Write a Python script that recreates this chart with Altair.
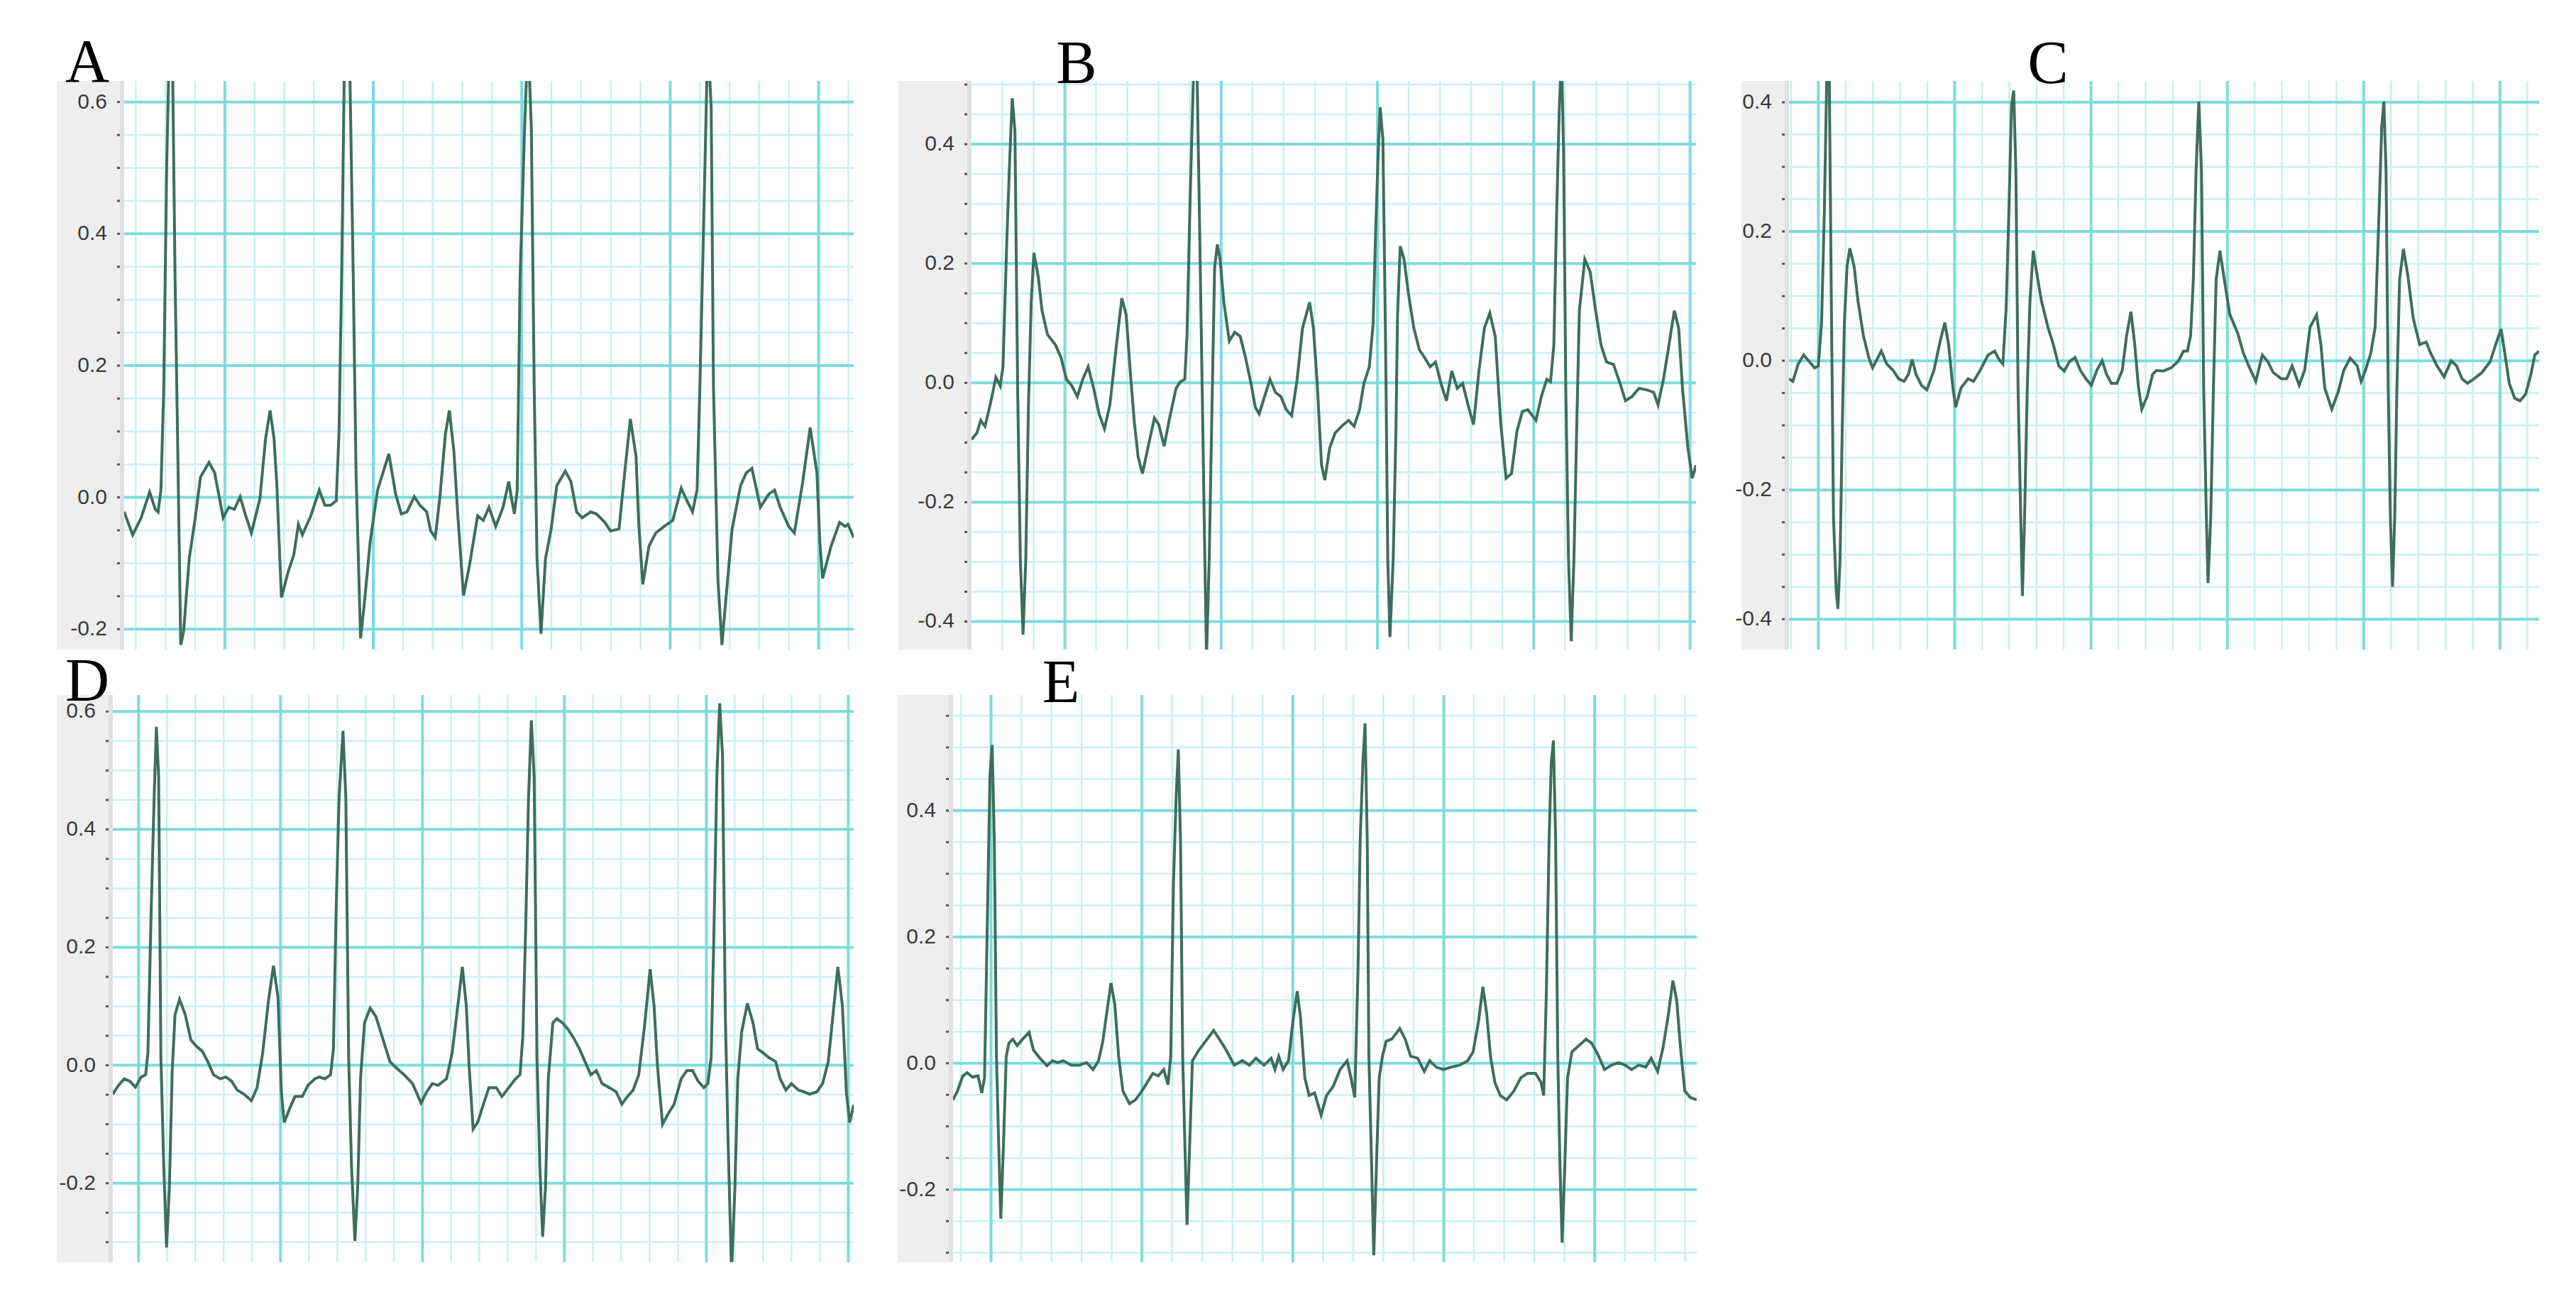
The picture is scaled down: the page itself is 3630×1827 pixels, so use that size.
import altair as alt
import pandas as pd

# ---------------- data (time in samples, amplitude in mV) ----------------
A_t = [0,15,30,45,55,60,65,70,75,80,85,90,95,100,105,115,125,135,150,160,170,175,185,195,205,215,225,240,250,258,
       265,270,278,290,300,308,315,330,345,355,365,375,380,385,390,398,405,410,418,425,435,448,468,480,490,500,513,523,535,542,
       550,558,568,575,583,590,600,610,625,635,645,657,670,680,685,690,695,700,708,714,720,725,730,737,745,755,765,780,790,800,
       810,825,835,850,860,875,885,895,905,910,917,928,940,955,970,985,995,1005,1013,1018,1025,1032,1038,1042,1050,1057,1065,1075,1090,1100,
       1110,1125,1140,1150,1160,1175,1185,1200,1213,1225,1230,1235,1250,1265,1275,1280,1290]
A_v = [-0.022,-0.057,-0.031,0.008,-0.018,-0.022,0.011,0.168,0.494,0.70,0.70,0.331,0.057,-0.224,-0.204,-0.093,-0.035,0.031,0.053,0.037,
       -0.008,-0.031,-0.015,-0.018,0.001,-0.028,-0.054,-0.002,0.089,0.132,0.089,0.018,-0.152,-0.113,-0.087,-0.041,-0.057,-0.028,0.011,-0.012,
       -0.012,-0.005,0.102,0.363,0.70,0.70,0.337,0.037,-0.214,-0.158,-0.067,0.011,0.066,0.005,-0.025,-0.022,0.001,-0.012,-0.022,-0.051,
       -0.061,-0.002,0.096,0.132,0.070,-0.028,-0.149,-0.106,-0.028,-0.035,-0.015,-0.044,-0.015,0.024,-0.002,-0.025,0.011,0.331,0.559,0.70,
       0.559,0.168,-0.093,-0.207,-0.093,-0.048,0.018,0.040,0.024,-0.022,-0.031,-0.022,-0.025,-0.038,-0.051,-0.048,0.037,0.119,0.063,-0.041,
       -0.132,-0.074,-0.054,-0.044,-0.035,0.014,-0.005,-0.022,0.011,0.168,0.428,0.70,0.591,0.168,-0.126,-0.224,-0.145,-0.048,0.018,0.037,
       0.044,-0.015,0.005,0.011,-0.015,-0.044,-0.054,0.024,0.106,0.037,-0.067,-0.123,-0.074,-0.038,-0.044,-0.041,-0.061]

B_t = [0,10,17,25,35,45,53,58,65,70,75,80,85,90,95,100,105,110,115,123,130,140,155,165,175,185,195,205,215,225,
       235,245,255,267,277,285,293,300,307,315,325,337,345,355,365,377,385,393,397,403,410,415,420,425,430,433,438,443,448,453,
       458,465,475,485,495,505,515,523,530,540,550,560,570,580,590,600,610,623,630,637,645,651,660,670,685,695,705,715,723,733,
       740,745,750,753,758,763,767,771,777,782,785,790,797,805,815,825,835,845,855,865,875,885,895,905,915,925,935,945,955,965,
       975,985,995,1005,1015,1025,1040,1050,1060,1067,1073,1078,1083,1087,1091,1095,1100,1105,1110,1115,1120,1130,1140,1150,1160,1170,1183,1195,1205,1217,
       1230,1245,1257,1265,1275,1285,1295,1303,1310,1320,1328,1335]
B_v = [-0.095,-0.084,-0.063,-0.073,-0.034,0.009,-0.005,0.027,0.236,0.365,0.477,0.423,-0.009,-0.296,-0.422,-0.296,-0.037,0.135,0.218,0.178,
       0.121,0.081,0.063,0.042,0.006,-0.005,-0.023,0.006,0.027,-0.009,-0.052,-0.077,-0.037,0.063,0.142,0.114,0.013,-0.066,-0.124,-0.152,
       -0.109,-0.059,-0.070,-0.106,-0.059,-0.009,0.002,0.006,0.078,0.315,0.55,0.55,0.279,-0.009,-0.296,-0.46,-0.296,-0.045,0.193,0.232,
       0.207,0.135,0.070,0.085,0.078,0.042,-0.001,-0.041,-0.052,-0.023,0.006,-0.016,-0.023,-0.045,-0.055,0.006,0.092,0.135,0.092,-0.001,
       -0.138,-0.163,-0.109,-0.084,-0.070,-0.063,-0.073,-0.045,-0.001,0.027,0.099,0.265,0.401,0.462,0.408,0.063,-0.296,-0.426,-0.296,-0.081,
       0.114,0.229,0.207,0.150,0.092,0.056,0.042,0.027,0.035,-0.001,-0.030,0.020,-0.009,-0.001,-0.037,-0.070,0.020,0.092,0.117,0.078,
       -0.066,-0.160,-0.152,-0.081,-0.048,-0.045,-0.063,-0.023,0.006,0.002,0.063,0.279,0.459,0.55,0.387,-0.009,-0.296,-0.433,-0.296,-0.081,
       0.121,0.207,0.186,0.121,0.063,0.035,0.031,-0.001,-0.030,-0.023,-0.009,-0.012,-0.016,-0.037,0.006,0.063,0.121,0.092,-0.009,-0.109,
       -0.160,-0.138]

C_t = [0,7,17,27,37,47,54,60,65,70,74,78,82,87,90,94,98,102,107,112,120,127,137,147,154,162,170,180,192,202,
       212,220,227,234,244,254,267,279,287,294,302,307,317,330,340,352,367,379,387,394,400,405,410,414,418,422,427,430,434,439,
       444,450,457,465,477,487,497,507,517,527,537,547,557,567,577,585,594,604,614,622,630,637,644,650,660,670,677,690,704,717,
       727,734,740,745,750,755,760,764,769,772,777,782,787,794,802,812,827,837,847,860,872,882,892,907,917,927,940,950,960,972,
       980,987,1000,1012,1022,1034,1047,1054,1062,1072,1080,1087,1092,1096,1100,1104,1108,1112,1116,1120,1125,1132,1140,1150,1162,1174,1182,1194,1207,1220,
       1230,1240,1250,1262,1277,1292,1302,1312,1320,1327,1337,1347,1357,1367,1374,1382]
C_v = [-0.028,-0.032,-0.005,0.009,-0.001,-0.011,-0.008,0.059,0.227,0.46,0.46,0.093,-0.243,-0.357,-0.384,-0.310,-0.109,0.059,0.146,0.174,
       0.146,0.093,0.039,0.005,-0.011,0.002,0.015,-0.005,-0.015,-0.028,-0.032,-0.021,0.002,-0.021,-0.038,-0.045,-0.015,0.032,0.059,0.025,
       -0.042,-0.072,-0.042,-0.028,-0.032,-0.015,0.009,0.015,0.002,-0.005,0.079,0.227,0.395,0.418,0.294,-0.042,-0.243,-0.364,-0.243,-0.042,
       0.093,0.170,0.133,0.093,0.052,0.025,-0.008,-0.016,-0.001,0.005,-0.015,-0.028,-0.038,-0.015,0.000,-0.021,-0.035,-0.035,-0.015,0.039,
       0.076,0.025,-0.042,-0.075,-0.055,-0.021,-0.015,-0.016,-0.011,-0.001,0.015,0.015,0.039,0.126,0.294,0.401,0.294,-0.042,-0.243,-0.344,
       -0.243,-0.042,0.126,0.170,0.126,0.072,0.042,0.012,-0.008,-0.032,0.009,-0.001,-0.018,-0.028,-0.028,-0.008,-0.038,-0.015,0.052,0.071,
       0.025,-0.042,-0.075,-0.048,-0.015,0.004,-0.008,-0.032,-0.015,0.012,0.052,0.227,0.361,0.401,0.294,-0.042,-0.243,-0.350,-0.243,-0.042,
       0.126,0.173,0.133,0.066,0.025,0.029,0.012,-0.008,-0.025,0.000,-0.008,-0.028,-0.035,-0.028,-0.018,-0.001,0.025,0.049,0.005,-0.035,
       -0.058,-0.062,-0.052,-0.021,0.009,0.015]

D_t = [0,10,20,30,40,50,58,62,68,73,77,81,85,90,95,100,105,110,118,128,138,148,158,168,178,190,200,210,220,232,
       245,255,265,275,284,292,298,303,312,322,335,345,357,365,375,385,390,395,400,407,412,417,422,428,433,438,445,455,465,478,
       490,502,515,530,545,555,565,575,590,600,610,618,625,630,637,645,655,665,678,688,700,712,720,725,730,735,740,745,750,755,
       760,765,770,778,785,795,805,815,825,835,845,855,865,878,890,900,910,920,930,940,950,957,963,972,982,992,1005,1015,1025,1035,
       1045,1052,1058,1063,1068,1073,1078,1083,1088,1094,1100,1105,1112,1122,1132,1140,1150,1160,1172,1180,1190,1200,1212,1222,1232,1245,1255,1265,1275,1282,
       1290,1297,1303,1310]
D_v = [-0.049,-0.034,-0.023,-0.027,-0.037,-0.020,-0.016,0.021,0.270,0.453,0.574,0.490,0.013,-0.170,-0.309,-0.207,-0.009,0.086,0.112,0.086,
       0.043,0.032,0.024,0.006,-0.016,-0.023,-0.020,-0.027,-0.042,-0.049,-0.060,-0.038,0.021,0.108,0.169,0.116,-0.045,-0.097,-0.075,-0.053,
       -0.053,-0.034,-0.023,-0.020,-0.023,-0.016,0.028,0.270,0.453,0.567,0.453,0.013,-0.170,-0.298,-0.207,-0.023,0.072,0.097,0.083,0.043,
       0.006,-0.005,-0.016,-0.031,-0.064,-0.045,-0.031,-0.034,-0.023,0.021,0.101,0.167,0.101,-0.001,-0.108,-0.097,-0.067,-0.038,-0.038,-0.053,
       -0.038,-0.023,-0.016,0.050,0.233,0.453,0.585,0.490,0.013,-0.170,-0.291,-0.207,-0.023,0.072,0.079,0.072,0.061,0.046,0.028,0.006,
       -0.016,-0.009,-0.031,-0.038,-0.045,-0.066,-0.053,-0.042,-0.016,0.065,0.163,0.101,-0.001,-0.100,-0.082,-0.067,-0.023,-0.009,-0.009,-0.027,
       -0.038,-0.031,0.013,0.233,0.490,0.614,0.526,0.086,-0.133,-0.35,-0.207,-0.023,0.057,0.105,0.072,0.028,0.021,0.013,0.006,-0.023,
       -0.042,-0.031,-0.042,-0.045,-0.049,-0.045,-0.031,0.006,0.101,0.167,0.101,-0.045,-0.097,-0.067]

E_t = [0,8,18,26,36,46,53,58,63,68,72,76,80,84,88,93,98,103,110,118,128,140,148,160,173,183,193,203,218,233,
       246,258,268,276,283,291,298,305,313,325,336,348,358,368,378,388,396,401,406,411,415,419,423,427,431,436,441,453,468,480,
       493,503,518,533,546,558,573,586,593,600,608,618,626,634,640,648,656,666,678,688,700,713,726,733,740,746,750,755,759,763,
       766,771,775,780,785,791,798,808,823,833,843,856,868,878,890,903,918,933,948,958,968,976,983,990,998,1008,1020,1033,1046,1058,
       1073,1083,1088,1093,1098,1102,1106,1110,1114,1118,1122,1127,1132,1140,1153,1166,1176,1188,1200,1213,1226,1238,1250,1263,1276,1286,1298,1308,1318,1326,
       1333,1340,1348,1358,1370]
E_v = [-0.058,-0.044,-0.020,-0.015,-0.022,-0.020,-0.047,-0.023,0.216,0.456,0.504,0.353,0.011,-0.126,-0.246,-0.126,0.011,0.032,0.038,0.028,
       0.038,0.049,0.021,0.008,-0.004,0.004,0.001,0.004,-0.003,-0.003,0.001,-0.010,0.004,0.035,0.079,0.127,0.093,0.011,-0.044,-0.064,
       -0.058,-0.044,-0.030,-0.016,-0.020,-0.010,-0.034,0.011,0.285,0.422,0.497,0.353,0.011,-0.126,-0.256,-0.126,0.004,0.021,0.038,0.052,
       0.035,0.021,-0.003,0.004,-0.003,0.008,-0.003,0.008,-0.010,0.011,-0.010,0.004,0.066,0.114,0.073,-0.023,-0.051,-0.047,-0.082,-0.051,
       -0.037,-0.010,0.004,-0.023,-0.054,0.148,0.353,0.477,0.538,0.353,0.011,-0.160,-0.304,-0.160,-0.023,0.011,0.035,0.038,0.055,0.038,
       0.011,0.008,-0.013,0.004,-0.006,-0.010,-0.006,-0.003,0.004,0.018,0.066,0.121,0.079,0.011,-0.030,-0.051,-0.058,-0.044,-0.023,-0.016,
       -0.016,-0.030,-0.051,0.114,0.353,0.477,0.511,0.353,0.011,-0.160,-0.284,-0.160,-0.023,0.018,0.028,0.038,0.032,0.014,-0.010,-0.003,
       0.001,-0.003,-0.010,-0.003,-0.006,0.008,-0.013,0.025,0.079,0.131,0.100,0.025,-0.044,-0.054,-0.058]

# axis domains (samples, mV)
X_DOMAINS = {"A": [0, 1290], "B": [0, 1335], "C": [0, 1382], "D": [0, 1310], "E": [0, 1370]}
Y_DOMAINS = {"A": [-0.231, 0.632], "B": [-0.447, 0.506], "C": [-0.447, 0.433],
             "D": [-0.334, 0.628], "E": [-0.315, 0.583]}
# vertical grid: (first minor line, minor step, first major line, major step) in samples
X_GRID = {"A": (20.5, 52.5, 178, 262.5), "B": (56.8, 57.6, 172, 288), "C": (3.8, 50.24, 54, 251.2),
          "D": (45.5, 50.2, 45.5, 251), "E": (14.4, 55.6, 70, 278)}

# ---------------- styling / layout ----------------
SIZES = {"A": (1028, 801), "B": (1021, 801), "C": (1057, 801), "D": (1044, 799), "E": (1048, 799)}
BAND = {"A": 95, "B": 103, "C": 67, "D": 79, "E": 78}
LETTER_POS = {"A": (-52, 1), "B": (148, 3), "C": (365, 3), "D": (-36, 8), "E": (152, 10)}

MINOR_C = "#c9f0f0"
MAJOR_C = "#7edbdb"
TRACE_C = "#3d6e5c"
LABEL_FONT = "Liberation Sans, Arial, sans-serif"

dummy = pd.DataFrame({"d": [0]})


def steps(start, step, lo, hi):
    out = []
    k = 0
    while start + k * step <= hi + 1e-9:
        val = start + k * step
        if val >= lo - 1e-9:
            out.append(round(val, 3))
        k += 1
    return out


def fmt(y):
    s = "%.1f" % abs(y)
    return ("-" + s) if y < -1e-9 else s


def panel(name, t, v):
    w, h = SIZES[name]
    xd = X_DOMAINS[name]
    yd = Y_DOMAINS[name]
    xs = alt.Scale(domain=xd, nice=False, zero=False)
    ys = alt.Scale(domain=yd, nice=False, zero=False)

    ytick = [round(k * 0.05, 2) for k in range(-12, 15) if yd[0] - 1e-9 <= k * 0.05 <= yd[1] + 1e-9]
    ymajor = [y for y in ytick if abs(round(y * 100)) % 20 == 0]
    m0, ms, M0, Ms = X_GRID[name]
    xminor = steps(m0, ms, xd[0], xd[1])
    xmajor = steps(M0, Ms, xd[0], xd[1])

    band = alt.Chart(dummy).mark_rect(color="#eeeeee").encode(
        x=alt.value(-BAND[name]), x2=alt.value(0), y=alt.value(0), y2=alt.value(h))
    edge = alt.Chart(dummy).mark_rect(color="#e0e0e0").encode(
        x=alt.value(-6), x2=alt.value(0), y=alt.value(0), y2=alt.value(h))
    white = alt.Chart(dummy).mark_rect(color="white").encode(
        x=alt.value(0), x2=alt.value(w), y=alt.value(0), y2=alt.value(h))

    gx_min = alt.Chart(pd.DataFrame({"gx": xminor})).mark_rule(color=MINOR_C, strokeWidth=2.5).encode(
        x=alt.X("gx:Q", scale=xs, axis=None))
    gy_min = alt.Chart(pd.DataFrame({"gy": ytick})).mark_rule(color=MINOR_C, strokeWidth=2.5).encode(
        y=alt.Y("gy:Q", scale=ys, axis=None))
    gx_maj = alt.Chart(pd.DataFrame({"gx": xmajor})).mark_rule(color=MAJOR_C, strokeWidth=4).encode(
        x=alt.X("gx:Q", scale=xs, axis=None))
    gy_maj = alt.Chart(pd.DataFrame({"gy": ymajor})).mark_rule(color=MAJOR_C, strokeWidth=4).encode(
        y=alt.Y("gy:Q", scale=ys, axis=None))

    # y-axis ticks (small dots) and tick labels, positioned through the y scale
    ticks = alt.Chart(pd.DataFrame({"gy": ytick})).mark_rule(color="#555555", strokeWidth=3).encode(
        y=alt.Y("gy:Q", scale=ys, axis=None), x=alt.value(-10), x2=alt.value(-6))
    labels = alt.Chart(pd.DataFrame({"gy": ymajor, "lab": [fmt(y) for y in ymajor]})).mark_text(
        align="right", baseline="middle", font=LABEL_FONT, fontSize=30, color="#3a3a3a").encode(
        y=alt.Y("gy:Q", scale=ys, axis=None), x=alt.value(-24), text="lab:N")

    df = pd.DataFrame({"t": t, "v": v})
    line = alt.Chart(df).mark_line(color=TRACE_C, strokeWidth=4, clip=True).encode(
        x=alt.X("t:Q", scale=xs, axis=None),
        y=alt.Y("v:Q", scale=ys, axis=None),
    )
    lx, ly = LETTER_POS[name]
    letter = alt.Chart(dummy).mark_text(
        text=name, font="Liberation Serif", fontSize=86, color="black",
        align="center", baseline="alphabetic").encode(x=alt.value(lx), y=alt.value(ly))

    return alt.layer(band, edge, white, gx_min, gy_min, gx_maj, gy_maj, ticks, labels, line, letter).properties(
        width=w, height=h)


def spacer(wd):
    return alt.Chart(dummy).mark_rect(color="white").encode(
        x=alt.value(0), x2=alt.value(wd), y=alt.value(0), y2=alt.value(1)).properties(width=wd, height=1)


pA = panel("A", A_t, A_v)
pB = panel("B", B_t, B_v)
pC = panel("C", C_t, C_v)
pD = panel("D", D_t, D_v)
pE = panel("E", E_t, E_v)

row1 = alt.hconcat(spacer(93), pA, spacer(38), pB, spacer(3), pC, spacing=64, bounds="flush")
row2 = alt.hconcat(spacer(1), pD, pE, spacing=140, bounds="flush")

chart = alt.vconcat(row1, row2, spacing=1).properties(
    padding={"left": 10, "top": 38, "right": 5, "bottom": 5}
).configure_view(stroke=None)

chart.save("out.html", embed_options={"renderer": "svg", "actions": False})
